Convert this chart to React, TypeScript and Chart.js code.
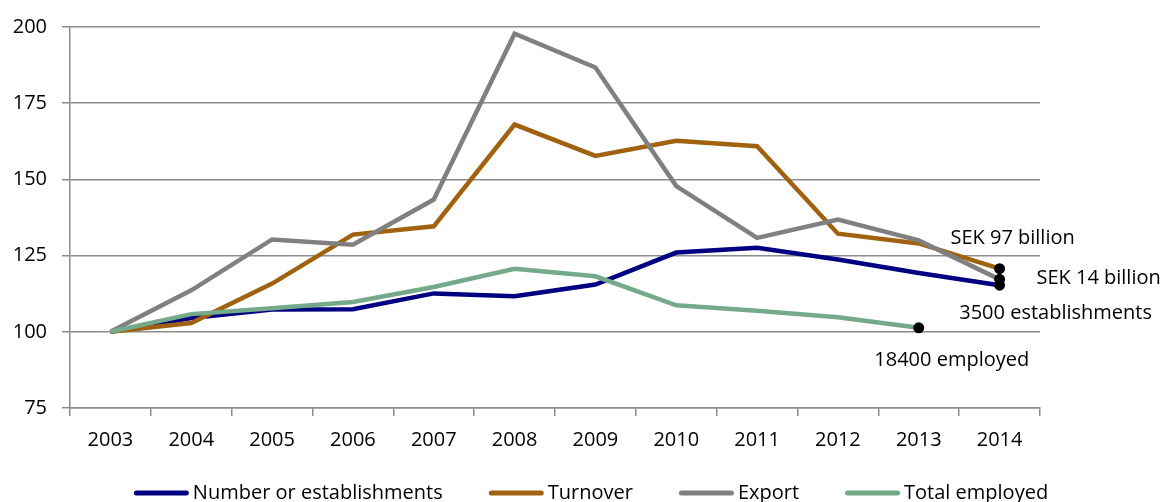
import { useEffect, useRef } from "react";
import { Chart, registerables } from "chart.js";

Chart.register(...registerables);

const years = ["2003", "2004", "2005", "2006", "2007", "2008", "2009", "2010", "2011", "2012", "2013", "2014"];
const establishments = [100, 104.5, 107.3, 107.4, 112.6, 111.7, 115.5, 126, 127.6, 123.7, 119.3, 115.3];
const turnover = [100, 102.9, 115.8, 131.9, 134.6, 168, 157.7, 162.7, 160.9, 132.2, 129, 120.7];
const exportIndex = [100, 113.6, 130.3, 128.6, 143.4, 197.8, 186.7, 147.8, 130.8, 136.8, 130, 117.2];
const employed = [100, 105.8, 107.7, 109.8, 114.7, 120.7, 118.2, 108.7, 106.9, 104.8, 101.3, null];
const seriesNames = ["Number or establishments", "Turnover", "Export", "Total employed"];
const seriesColors = ["#000080", "#A0620E", "#808080", "#74A98A"];
const endLabels = ["3500 establishments", "SEK 97 billion", "SEK 14 billion", "18400 employed"];
const yMin = 75;
const yMax = 200;
const yStep = 25;

const FONT = "'Open Sans', 'Noto Sans', sans-serif";

function lastIndex(arr: (number | null)[]) {
  for (let i = arr.length - 1; i >= 0; i--) if (arr[i] !== null) return i;
  return -1;
}

// label offsets relative to each series' end point (pixels)
const labelOffsets = [
  { dx: 56, dy: 28 },
  { dx: 13, dy: -30 },
  { dx: 99, dy: -1 },
  { dx: 33, dy: 32 },
];

const endPointsPlugin = {
  id: "endPoints",
  afterDatasetsDraw(chart: any) {
    const ctx = chart.ctx;
    chart.data.datasets.forEach((ds: any, i: number) => {
      const meta = chart.getDatasetMeta(i);
      const idx = lastIndex(ds.data);
      const el = meta.data[idx];
      if (!el) return;
      ctx.save();
      ctx.beginPath();
      ctx.arc(el.x, el.y, 5.5, 0, Math.PI * 2);
      ctx.fillStyle = "#000";
      ctx.fill();
      ctx.restore();
    });
  },
  afterDraw(chart: any) {
    const ctx = chart.ctx;
    ctx.save();
    ctx.font = `20px ${FONT}`;
    ctx.fillStyle = "#000";
    ctx.textBaseline = "middle";
    ctx.textAlign = "center";
    chart.data.datasets.forEach((ds: any, i: number) => {
      const meta = chart.getDatasetMeta(i);
      const idx = lastIndex(ds.data);
      const el = meta.data[idx];
      if (!el) return;
      ctx.fillText(endLabels[i], el.x + labelOffsets[i].dx, el.y + labelOffsets[i].dy);
    });
    // legend
    const sw = 55;
    const gap = 4;
    const sp = 46;
    const items = chart.data.datasets.map((ds: any) => ({
      text: ds.label,
      color: ds.borderColor,
      w: ctx.measureText(ds.label).width,
    }));
    let total = 0;
    items.forEach((it: any) => (total += sw + gap + it.w));
    total += sp * (items.length - 1);
    let x = chart.width / 2 - total / 2 + 8;
    const y = chart.height - 9;
    ctx.textAlign = "left";
    items.forEach((it: any) => {
      ctx.beginPath();
      ctx.lineCap = "round";
      ctx.lineWidth = 5;
      ctx.strokeStyle = it.color;
      ctx.moveTo(x + 2.5, y);
      ctx.lineTo(x + sw - 2.5, y);
      ctx.stroke();
      ctx.fillText(it.text, x + sw + gap, y);
      x += sw + gap + it.w + sp;
    });
    ctx.restore();
  },
};

export default function App() {
  const ref = useRef<HTMLCanvasElement | null>(null);
  useEffect(() => {
    if (!ref.current) return;
    const data = [establishments, turnover, exportIndex, employed];
    const orders = [3, 2, 1, 0];
    const chart = new Chart(ref.current, {
      type: "line",
      data: {
        labels: years,
        datasets: data.map((d, i) => ({
          label: seriesNames[i],
          data: d,
          borderColor: seriesColors[i],
          backgroundColor: seriesColors[i],
          borderWidth: 4.5,
          pointRadius: 0,
          pointHoverRadius: 0,
          tension: 0,
          fill: false,
          spanGaps: false,
          order: orders[i],
        })),
      },
      options: {
        animation: false,
        responsive: true,
        maintainAspectRatio: false,
        layout: { padding: { left: 0, right: 126, top: 26, bottom: 44 } },
        plugins: {
          legend: { display: false },
          tooltip: { enabled: false },
        },
        scales: {
          x: {
            offset: true,
            grid: {
              offset: true,
              drawOnChartArea: false,
              drawTicks: true,
              tickLength: 8,
              color: "#8c8c8c",
              lineWidth: 1.5,
            },
            border: { color: "#8c8c8c", width: 1.5 },
            ticks: {
              color: "#000",
              font: { family: FONT, size: 20 },
              padding: 12,
              maxRotation: 0,
              autoSkip: false,
            },
            afterFit(scale: any) {
              scale.height = 50;
            },
          },
          y: {
            min: yMin,
            max: yMax,
            grid: {
              color: "#8c8c8c",
              lineWidth: 1.5,
              tickLength: 8,
            },
            border: { color: "#8c8c8c", width: 1.5 },
            ticks: {
              stepSize: yStep,
              color: "#000",
              font: { family: FONT, size: 20 },
              padding: 15,
            },
            afterFit(scale: any) {
              scale.width = 70;
            },
          },
        },
      },
      plugins: [endPointsPlugin],
    });
    return () => chart.destroy();
  }, []);
  return (
    <div style={{ position: "fixed", left: 0, top: 0, width: 1166, height: 502, background: "#fff" }}>
      <canvas ref={ref} />
    </div>
  );
}
